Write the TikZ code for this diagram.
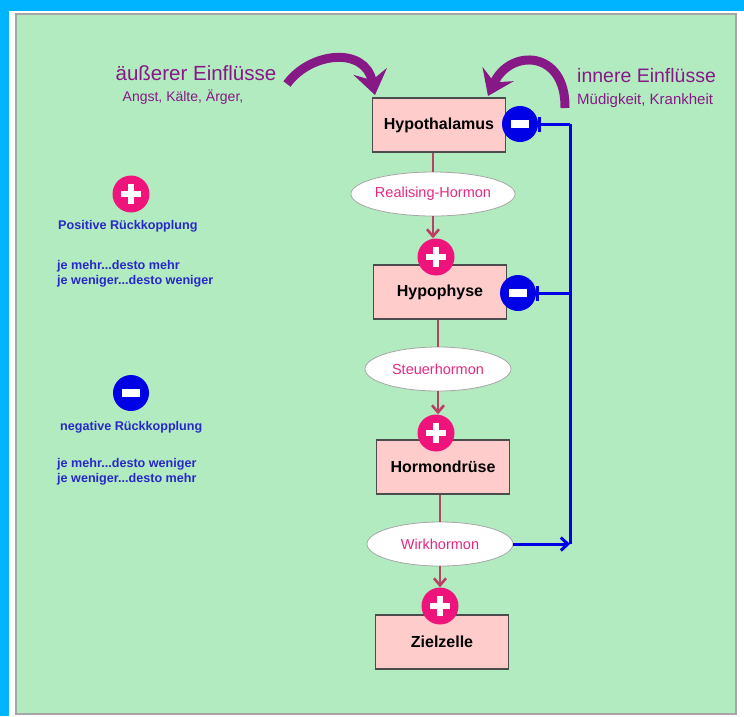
\documentclass[tikz,border=0pt]{standalone}
\usepackage{fontspec}
\setmainfont{Liberation Sans}
\usepackage{xcolor}
\usetikzlibrary{arrows.meta,shapes}

\definecolor{frameblue}{RGB}{0,180,255}
\definecolor{panelgreen}{RGB}{179,235,193}
\definecolor{boxpink}{RGB}{255,204,204}
\definecolor{plusred}{RGB}{238,20,124}
\definecolor{minusblue}{RGB}{0,0,230}
\definecolor{linkred}{RGB}{185,65,100}
\definecolor{hormonpink}{RGB}{230,40,130}
\definecolor{violett}{RGB}{135,25,135}
\definecolor{legendblue}{RGB}{40,40,200}

\begin{document}
\begin{tikzpicture}[x=1pt, y=-1pt,
  box node/.style={rectangle, draw=black!70, line width=1.2pt, fill=boxpink, minimum width=133pt, minimum height=54pt, inner sep=0pt, font=\bfseries\fontsize{16}{18}\selectfont},
  hormone node/.style={ellipse, draw=black!35, line width=0.8pt, fill=white, minimum width=146pt, minimum height=44pt, inner sep=0pt, text=hormonpink, font=\fontsize{14.5}{16}\selectfont},
  plus node/.style={circle, fill=plusred, minimum size=37pt, inner sep=0pt, path picture={
      \fill[white] (path picture bounding box.center) ++(-10pt,-2.6pt) rectangle ++(20pt,5.2pt);
      \fill[white] (path picture bounding box.center) ++(-2.6pt,-10pt) rectangle ++(5.2pt,20pt);}},
  minus node/.style={circle, fill=minusblue, minimum size=36pt, inner sep=0pt, path picture={
      \fill[white] (path picture bounding box.center) ++(-9pt,-4pt) rectangle ++(18pt,8pt);}},
  link line/.style={draw=linkred, line width=2.6pt},
  blue line/.style={draw=minusblue, line width=3pt},
  purple arrow/.style={draw=violett, line width=9pt, -{Stealth[length=24pt, width=34pt, inset=9pt]}},
  legend node/.style={anchor=west, align=left, inner sep=0pt, text=legendblue, font=\bfseries\fontsize{12.6}{15}\selectfont}]

% frame and panel
\useasboundingbox (0,0) rectangle (744,716);
\fill[white] (0,0) rectangle (744,716);
\fill[frameblue] (0,0) rectangle (744,11);
\fill[frameblue] (0,0) rectangle (9,716);
\draw[fill=panelgreen, draw=black!35, line width=1.5pt] (16,14) rectangle (736,714);

% influences from outside and inside
\node[text=violett, font=\fontsize{20.5}{22}\selectfont] (aussen) at (196,73) {äußerer Einflüsse};
\node[text=violett, font=\fontsize{14}{16}\selectfont] (aussen text) at (183,97) {Angst, Kälte, Ärger,};
\node[anchor=west, inner sep=0pt, text=violett, font=\fontsize{19.5}{21}\selectfont] (innen) at (577,76) {innere Einflüsse};
\node[anchor=west, inner sep=0pt, text=violett, font=\fontsize{15}{17}\selectfont] (innen text) at (577,101) {Müdigkeit, Krankheit};
\coordinate (a1) at (287,84);
\coordinate (a2) at (375,95);
\coordinate (i1) at (565,108);
\coordinate (i2) at (488,96);
\draw[purple arrow] (a1) .. controls (310,52) and (365,46) .. (a2);
\draw[purple arrow] (i1) .. controls (566,50) and (510,48) .. (i2);

% hormone chain
\node[box node] (hth) at (439,125) {Hypothalamus};
\node[box node] (hyp) at (440,292) {Hypophyse};
\node[box node] (drue) at (443,467) {Hormondrüse};
\node[box node] (ziel) at (442,642) {Zielzelle};

\node[hormone node] (rh) at (433,194) {Realising-Hormon};
\node[hormone node] (steu) at (438,369) {Steuerhormon};
\node[hormone node] (wirk) at (440,544) {Wirkhormon};

\draw[link line] (hth.south -| rh.north) -- (rh.north);
\draw[link line] (hyp.south -| steu.north) -- (steu.north);
\draw[link line] (drue.south -| wirk.north) -- (wirk.north);

\node[plus node] (pl1) at (436,257) {};
\node[plus node] (pl2) at (436,433) {};
\node[plus node] (pl3) at (440,606) {};

\draw[link line, -{Straight Barb[length=7pt, width=12pt]}] (rh.south) -- (rh.south |- pl1.north);
\draw[link line, -{Straight Barb[length=7pt, width=12pt]}] (steu.south) -- (steu.south |- pl2.north);
\draw[link line, -{Straight Barb[length=7pt, width=12pt]}] (wirk.south) -- (wirk.south |- pl3.north);

% negative feedback
\node[minus node] (mi1) at (520,124) {};
\node[minus node] (mi2) at (518,293) {};
\coordinate (fb1) at (570,124);
\coordinate (fb2) at (570,293);
\coordinate (fb3) at (570,544);
\draw[blue line] (fb1) -- (fb3);
\draw[blue line, {Bar[width=15pt]}-] (mi1.east) -- (fb1);
\draw[blue line, {Bar[width=15pt]}-] (mi2.east) -- (fb2);
\draw[blue line, -{Straight Barb[length=7pt, width=13pt]}] (wirk.east) -- (fb3);

% legend
\node[plus node] (lp) at (131,194) {};
\node[legend node] (lp text) at (58,226) {Positive Rückkopplung};
\node[legend node] (lp rule) at (57,274) {je mehr...desto mehr\\je weniger...desto weniger};
\node[minus node] (lm) at (131,393) {};
\node[legend node] (lm text) at (60,427) {negative Rückkopplung};
\node[legend node] (lm rule) at (57,472) {je mehr...desto weniger\\je weniger...desto mehr};
\end{tikzpicture}
\end{document}
